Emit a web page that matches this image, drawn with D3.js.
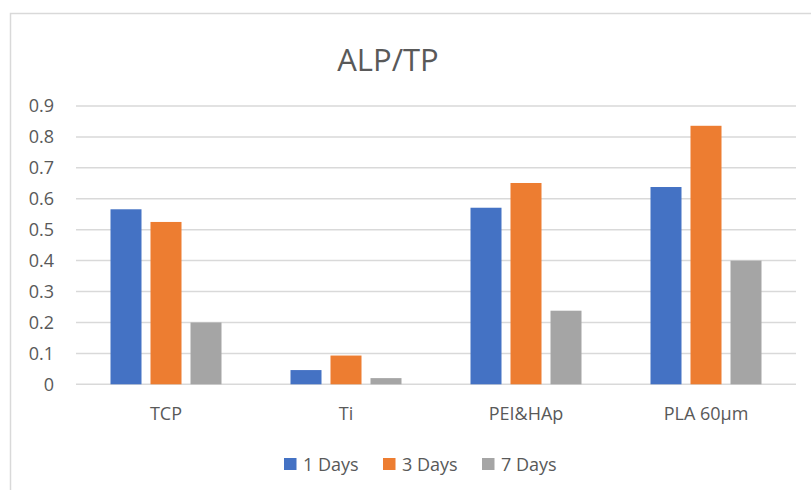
<!DOCTYPE html>
<html>
<head>
<meta charset="utf-8">
<script src="https://cdn.jsdelivr.net/npm/d3@7/dist/d3.min.js"></script>
<style>
  html, body { margin: 0; padding: 0; background: #fff; }
  svg { display: block; font-family: "Open Sans", sans-serif; }
</style>
</head>
<body>
<svg id="chart" width="811" height="490"></svg>
<script>
// Sample groups on the x axis
const categories = ["TCP", "Ti", "PEI&HAp", "PLA 60\u00b5m"];
// Series: ALP/TP ratio per time point
const seriesNames = ["1 Days", "3 Days", "7 Days"];
const day1 = [0.566, 0.046, 0.571, 0.638];
const day3 = [0.525, 0.093, 0.651, 0.836];
const day7 = [0.2, 0.02, 0.238, 0.4];
const yTicks = [0, 0.1, 0.2, 0.3, 0.4, 0.5, 0.6, 0.7, 0.8, 0.9];
const colors = ["#4472C4", "#ED7D31", "#A5A5A5"];

const seriesValues = [day1, day3, day7];
const svg = d3.select("#chart");
const fontSize = 18;

// Chart frame
svg.append("path")
  .attr("d", "M10.5,490 V13.5 H811")
  .attr("fill", "none")
  .attr("stroke", "#d9d9d9")
  .attr("stroke-width", 1.5);

const plot = { left: 76, right: 796, top: 106, bottom: 384.3 };

const y = d3.scaleLinear().domain([0, 0.9]).range([plot.bottom, plot.top]);
const x0 = d3.scaleBand().domain(categories).range([plot.left, plot.right]).padding(0);
const groupWidth = 111;
const x1 = d3.scaleBand().domain(seriesNames).range([0, groupWidth]).paddingInner(0.225);

// Horizontal gridlines
svg.append("g")
  .selectAll("line")
  .data(yTicks)
  .join("line")
  .attr("x1", plot.left)
  .attr("x2", plot.right)
  .attr("y1", d => y(d))
  .attr("y2", d => y(d))
  .attr("stroke", "#d9d9d9")
  .attr("stroke-width", 1.5);

// Y axis tick labels
const yAxis = d3.axisLeft(y).tickValues(yTicks).tickSize(0).tickPadding(0)
  .tickFormat(d => d === 0 ? "0" : d3.format(".1f")(d));
svg.append("g")
  .attr("transform", `translate(54,0)`)
  .call(yAxis)
  .call(g => g.select(".domain").remove())
  .call(g => g.selectAll("text")
    .attr("fill", "#595959")
    .attr("font-size", fontSize)
    .attr("font-family", "'Open Sans', sans-serif"));

// Bars
const groups = svg.append("g")
  .selectAll("g")
  .data(categories)
  .join("g")
  .attr("transform", d => `translate(${x0(d) + (x0.bandwidth() - groupWidth) / 2},0)`);

groups.selectAll("rect")
  .data((c, i) => seriesNames.map((s, j) => ({ s, j, v: seriesValues[j][i] })))
  .join("rect")
  .attr("x", d => x1(d.s))
  .attr("width", x1.bandwidth())
  .attr("y", d => y(d.v))
  .attr("height", d => y(0) - y(d.v))
  .attr("fill", d => colors[d.j]);

// Category labels
const xAxis = d3.axisBottom(x0).tickSize(0).tickPadding(0);
svg.append("g")
  .attr("transform", `translate(0,${plot.bottom + 23})`)
  .call(xAxis)
  .call(g => g.select(".domain").remove())
  .call(g => g.selectAll("text")
    .attr("fill", "#595959")
    .attr("font-size", fontSize)
    .attr("font-family", "'Open Sans', sans-serif"));

// Title
svg.append("text")
  .attr("x", 388)
  .attr("y", 71)
  .attr("text-anchor", "middle")
  .attr("fill", "#595959")
  .attr("font-size", 31)
  .text("ALP/TP");

// Legend
const legendX = [284, 383, 482];
const legend = svg.append("g")
  .selectAll("g")
  .data(seriesNames)
  .join("g")
  .attr("transform", (d, i) => `translate(${legendX[i]},458)`);
legend.append("rect")
  .attr("width", 12.5)
  .attr("height", 12)
  .attr("fill", (d, i) => colors[i]);
legend.append("text")
  .attr("x", 19)
  .attr("y", 13)
  .attr("fill", "#595959")
  .attr("font-size", fontSize)
  .text(d => d);
</script>
</body>
</html>
